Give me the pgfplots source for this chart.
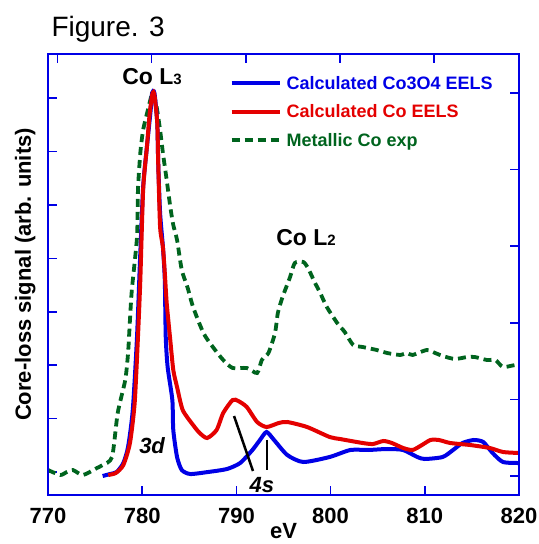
\documentclass[border=0pt]{standalone}
\usepackage{pgfplots}
\pgfplotsset{compat=1.18}
\usepackage{fontspec}
\setmainfont{Liberation Sans}
\definecolor{cblue}{RGB}{0,0,230}
\definecolor{cred}{RGB}{228,0,0}
\definecolor{cgreen}{RGB}{0,100,30}

% y values: arbitrary units (0 = bottom of frame)
\pgfplotstableread{
x y
775.8 19
776.6 21
777.3 23
778.0 32
778.5 48
779.0 85
779.45 158
779.77 235
780.1 308
780.5 348
780.9 385
781.05 402
781.3 402
781.6 372
781.7 332
781.9 282
782.2 248
782.4 215
782.5 158
782.7 128
783.2 95
783.3 65
783.7 38
784.2 25
785.1 21
787.0 23
789.0 26
790.4 32
791.7 45
792.5 55
793.2 63
794.0 55
795.4 40
797.1 33
799.9 38
802.1 45
804.0 45
806.0 46
807.7 45
809.2 38
810.0 36
811.9 38
813.0 45
814.0 52
815.2 55
816.2 53
817.2 42
818.3 33
820.0 32
}\coooeels

\pgfplotstableread{
x y
776.4 20
777.2 22
778.0 30
778.7 52
779.2 92
779.55 158
779.8 215
780.1 305
780.5 348
780.8 382
781.1 402
781.3 400
781.6 372
781.7 332
781.9 268
782.2 248
782.4 222
782.6 192
782.95 158
783.3 125
783.7 108
784.3 85
785.4 70
786.1 62
786.9 57
787.9 65
788.6 82
789.6 95
790.2 94
791.1 88
792.2 73
793.2 68
794.5 72
795.4 73
797.5 68
799.9 58
801.0 56
803.4 52
804.5 51
805.6 54
806.5 52
807.7 47
808.7 45
809.7 50
810.6 55
811.5 55
812.7 52
814.8 50
816.9 47
818.3 43
820.0 42
}\coeels

\pgfplotstableread{
x y
770.0 25
771.3 20
772.0 23
772.65 25
773.7 20
775.2 27
775.8 30
776.8 38
777.4 82
778.2 115
778.5 142
778.7 175
778.9 205
779.45 258
779.55 305
779.8 342
780.1 365
780.6 385
781.0 400
781.15 402
781.5 390
781.9 365
782.2 342
782.6 315
783.0 287
783.3 270
783.7 255
784.2 225
784.8 208
785.4 188
786.5 162
787.5 148
788.6 135
789.6 127
791.1 127
792.2 122
792.7 135
793.4 142
794.1 162
794.4 182
794.9 198
795.7 218
796.2 232
797.1 233
797.6 227
798.3 213
798.9 202
799.6 188
800.7 172
801.5 163
802.4 150
803.4 148
804.9 145
806.0 142
807.4 140
808.1 142
808.7 140
810.2 145
811.1 142
811.9 139
813.2 136
814.5 138
815.3 138
816.6 135
817.5 135
818.3 128
819.6 130
820.0 129
}\coexp

\pgfplotsset{
  frame/.style={
    scale only axis, width=471pt, height=441pt,
    xmin=770, xmax=820, ymin=0, ymax=441,
    axis line style={cblue, line width=1.5pt},
    tick style={cblue, line width=1.5pt},
    tick align=inside, major tick length=9pt,
  },
}

\begin{document}
\begin{tikzpicture}
\begin{axis}[frame,
  xtick={770,780,...,820}, xtick pos=left,
  ytick={23,76.4,129.8,183.2,236.6,290,343.4,396.8}, ytick pos=left,
  yticklabels={},
  /pgf/number format/assume math mode=true,
  /pgf/number format/set thousands separator={},
  xticklabel style={font=\bfseries\fontsize{22}{22}\selectfont, yshift=-10pt},
  xlabel={eV},
  xlabel style={font=\bfseries\fontsize{22}{22}\selectfont, yshift=8pt},
  ylabel={Core-loss signal (arb. units)},
  ylabel style={font=\bfseries\fontsize{22}{22}\selectfont, yshift=2pt},
  legend style={at={(0.385,0.955)}, anchor=north west, draw=none, fill=none,
    font=\bfseries\fontsize{18}{18}\selectfont, row sep=10pt,
    inner sep=0pt, nodes={inner xsep=5pt}},
  legend cell align=left,
  legend image code/.code={\draw[#1] (0pt,0pt) -- (48pt,0pt);},
]
\addplot[cgreen, line width=3.8pt, dash pattern=on 8pt off 5pt, smooth, tension=0.4, forget plot] table[x=x,y=y]{\coexp};
\addplot[cblue, line width=4pt, smooth, tension=0.4, forget plot] table[x=x,y=y]{\coooeels};
\addplot[cred, line width=4pt, smooth, tension=0.4, forget plot] table[x=x,y=y]{\coeels};
\addlegendimage{cblue, line width=4pt}
\addlegendentry{\textcolor{cblue}{Calculated Co3O4 EELS}}
\addlegendimage{cred, line width=4pt}
\addlegendentry{\textcolor{cred}{Calculated Co EELS}}
\addlegendimage{cgreen, line width=3.8pt, dash pattern=on 8pt off 5pt}
\addlegendentry{\textcolor{cgreen}{Metallic Co exp}}

\node[font=\bfseries\fontsize{23}{23}\selectfont] at (axis cs:781.05,418) {Co L{\fontsize{15}{15}\selectfont 3}};
\node[font=\bfseries\fontsize{23}{23}\selectfont] at (axis cs:797.4,257) {Co L{\fontsize{15}{15}\selectfont 2}};
\node[font=\bfseries\itshape\fontsize{22}{22}\selectfont] at (axis cs:781.05,49) {3d};
\node[font=\bfseries\itshape\fontsize{22}{22}\selectfont] at (axis cs:792.7,10) {4s};
\draw[black, line width=2.5pt] (axis cs:789.75,79) -- (axis cs:791.76,24);
\draw[black, line width=2.5pt] (axis cs:793.25,55) -- (axis cs:793.25,25);
\end{axis}
\begin{axis}[frame,
  xtick={771,781,791,801,811}, xtick pos=right, xticklabels={},
  ytick={19,95.6,172.2,248.8,325.4,402}, ytick pos=right, yticklabels={},
]
\end{axis}
\node[anchor=base west, font=\fontsize{28}{28}\selectfont] at ([shift={(0pt,458pt)}]current axis.south west) {Figure. 3};
\pgfresetboundingbox
\path[use as bounding box] ([shift={(-48pt,-49pt)}]current axis.south west) rectangle ([shift={(20pt,54pt)}]current axis.north east);
\end{tikzpicture}
\end{document}
